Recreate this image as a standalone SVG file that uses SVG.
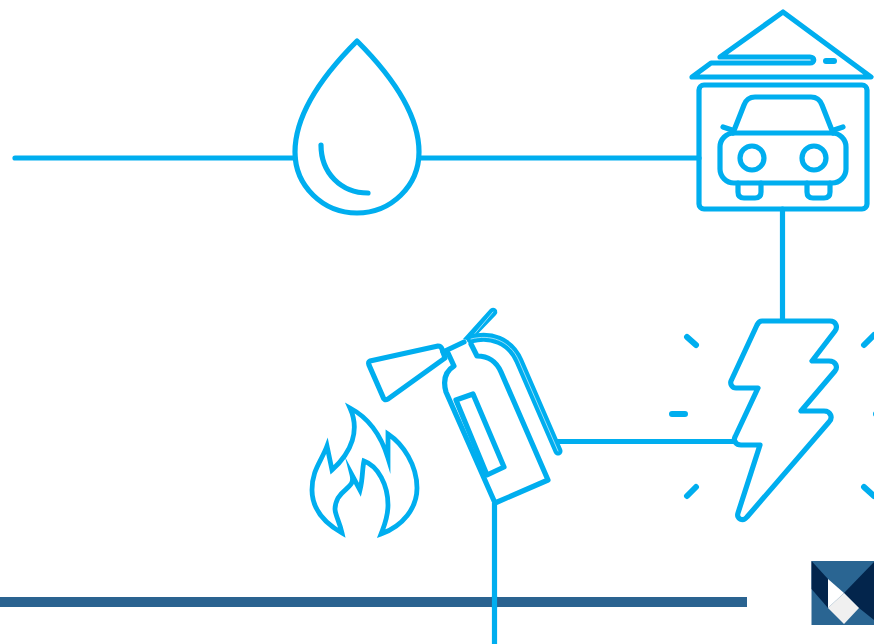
<svg xmlns="http://www.w3.org/2000/svg" width="874" height="644" viewBox="0 0 874 644">
<style>
.s{fill:none;stroke:#00aeef;stroke-width:5.2;stroke-linecap:round;stroke-linejoin:round}
.b{stroke-linecap:butt}
.m{stroke-linejoin:miter;stroke-miterlimit:10;stroke-width:4.8}
.h{fill:none;stroke:#fff;stroke-width:.6;stroke-linecap:round;stroke-linejoin:round}
</style>
<rect width="874" height="644" fill="#fff"/>
<g id="connectors">
<path class="s" d="M15 158H295M420 158H699M782.500 209V320M558 441.500H735"/>
<path class="s b" d="M494.500 503V644"/>
</g>
<g id="bar"><rect x="0" y="597" width="747" height="10" fill="#2a6390"/></g>
<path class="s b" d="M494.500 596V608"/>
<g id="drop">
<path class="s" d="M357 41C330 68 295 110 295 152C295 186 323 213 357 213C391 213 419 186 419 152C419 110 384 68 357 41Z"/>
<path class="s" d="M321 145C321 173 341 193 368 193"/>
</g>
<g id="garage">
<path class="s" d="M720 57L783 12L871 77H692L711 63H810C815 63 815 57 810 57Z"/>
<path class="s" style="stroke-width:6" d="M826 61H834"/>
<rect class="s" x="699" y="85" width="168" height="124" rx="5"/>
<path class="s" d="M733 133L744 105Q747 97 755 97H811Q819 97 822 105L833 133"/>
<rect class="s" x="720" y="133" width="126" height="50" rx="14"/>
<circle class="s" cx="752" cy="158" r="12"/>
<circle class="s" cx="814" cy="158" r="12"/>
<path class="s" d="M738 183V192Q738 198 744 198H755Q761 198 761 192V183"/>
<path class="s" d="M807 183V192Q807 198 813 198H824Q830 198 830 192V183"/>
<path class="s" d="M723 127L732 130M843 127L834 130"/>
</g>
<g id="extinguisher">
<path class="s" d="M370 361L438 346Q441 346 442 349L445 358L388 399Q384 401 383 397L369 365Q368 362 370 361Z"/>
<path class="s" d="M443 352L464 342"/>
<path d="M463 339L490 309Q494 306 497 310Q498 313 496 315L471 341Z" fill="#00aeef"/>
<path class="h" d="M472 337L493 312"/>
<path class="s" d="M448 353L454 366Q441 374 446 392L495 503L548 480L501 372Q494 356 477 356L471 344"/>
<path class="s" d="M456 400L473 394L504 467L487 475Z"/>
<path class="s" style="stroke-width:9" d="M471 339C490 334 510 340 519 361L558 451"/>
<path class="h" d="M471 339C490 334 510 340 519 361L558 451"/>
</g>
<g id="flame">
<path class="s m" d="M350 408C360 430 352 452 332 470L327 446C321 462 312 470 312 490C312 512 328 525 342 533C338 515 331 512 338 498C345 487 355 487 352 475L360 490C363 478 362 470 364 461C378 466 388 485 388 505C388 518 384 526 381 534C403 526 417 508 417 488C417 465 403 444 388 434L388 458C380 432 367 417 350 408Z"/>
</g>
<g id="bolt">
<path class="s" d="M762 321H830C836 321 838 327 835 331L812 361H829C836 361 838 367 835 371L801 411H824C831 411 833 418 829 422L747 517C743 522 736 519 738 513L760 445H741C736 445 733 441 735 437L758 388H736C732 388 730 384 731 381L757 325Q759 321 762 321Z"/>
<path class="s" style="stroke-width:6" d="M687 337L696 345M672 414H685M687 496L696 487M864 345L874 335M864 487L874 496M876 414H888"/>
</g>
<g id="logo">
<rect x="811.500" y="561" width="62.500" height="64" fill="#2a6592"/>
<path d="M811.500 561L828 579V608L811.500 589Z" fill="#03254c"/>
<path d="M874 562V620L859 608L844 593Z" fill="#03254c"/>
<path d="M828 579L844 593L828 608Z" fill="#fff"/>
<path d="M844 593L859 608L844 624L828 608Z" fill="#f0f0f0"/>
</g>
</svg>
